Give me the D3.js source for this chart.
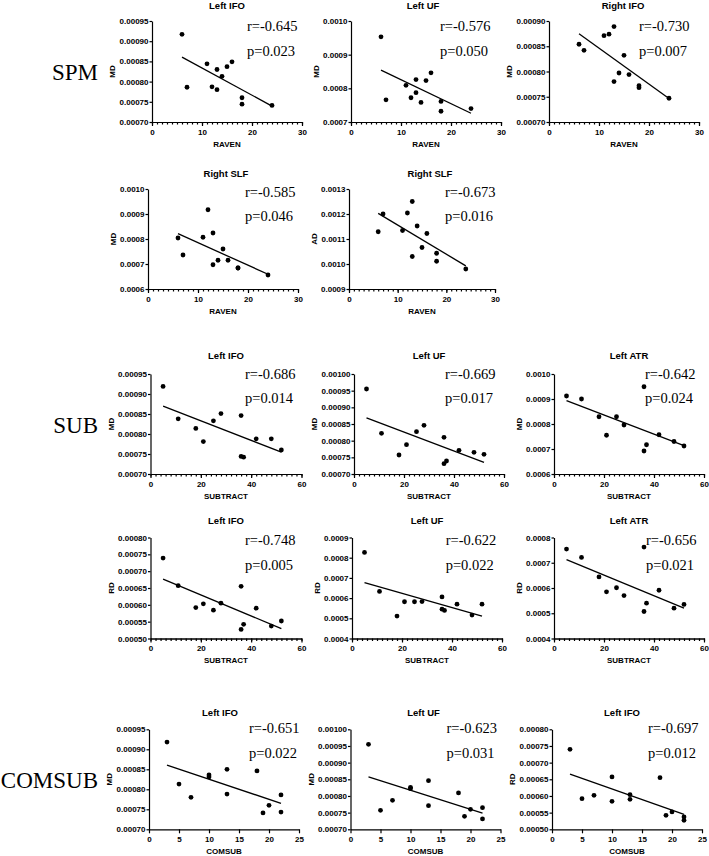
<!DOCTYPE html>
<html lang="en">
<head>
<meta charset="UTF-8">
<title>Correlations of DTI metrics with SPM, SUBTRACT and COMSUB</title>
<style>
    body { margin: 0; background: #fff; }
    svg text { fill: #000; }
    .sans { font-family: "Liberation Sans", Arial, sans-serif; font-weight: bold; }
    .serif { font-family: "Liberation Serif", "Times New Roman", serif; }
</style>
</head>
<body>
<svg id="chart" width="709" height="856"></svg>

<script src="https://d3js.org/d3.v7.min.js"></script>
<script>
// scores (x values, one per subject)
const raven    = [6, 7, 11, 12, 13, 13, 14, 15, 16, 18, 18, 24];
const subtract = [5, 11, 18, 21, 25, 28, 36, 36, 37, 42, 48, 52];
const comsub   = [3, 5, 7, 10, 10, 13, 13, 18, 19, 20, 22, 22];

// DTI values, same order as the score arrays
const spmLeftIfoMD    = [0.000917, 0.000786, 0.000844, 0.000787, 0.000830, 0.000780, 0.000813, 0.000837, 0.000849, 0.000760, 0.000744, 0.000741];
const spmLeftUfMD     = [0.000953, 0.000766, 0.000809, 0.000772, 0.000826, 0.000787, 0.000758, 0.000823, 0.000846, 0.000761, 0.000732, 0.000740];
const spmRightIfoMD   = [0.000854, 0.000842, 0.000871, 0.000874, 0.000889, 0.000780, 0.000797, 0.000832, 0.000794, 0.000772, 0.000768, 0.000747];
const spmRightSlfMD   = [0.000804, 0.000736, 0.000807, 0.000917, 0.000824, 0.000697, 0.000715, 0.000760, 0.000715, 0.000684, 0.000684, 0.000656];
const spmRightSlfAD   = [0.001129, 0.001200, 0.001134, 0.001204, 0.001250, 0.001030, 0.001152, 0.001066, 0.001122, 0.001043, 0.001011, 0.000980];
const subLeftIfoMD    = [0.000919, 0.000838, 0.000814, 0.000781, 0.000833, 0.000851, 0.000846, 0.000744, 0.000742, 0.000788, 0.000788, 0.000760];
const subLeftUfMD     = [0.000955, 0.000822, 0.000757, 0.000788, 0.000827, 0.000846, 0.000810, 0.000731, 0.000739, 0.000771, 0.000765, 0.000759];
const subLeftAtrMD    = [0.000912, 0.000900, 0.000829, 0.000755, 0.000829, 0.000796, 0.000949, 0.000692, 0.000717, 0.000757, 0.000730, 0.000712];
const subLeftIfoRD    = [0.000739, 0.000657, 0.000592, 0.000603, 0.000584, 0.000605, 0.000655, 0.000527, 0.000542, 0.000590, 0.000537, 0.000552];
const subLeftUfRD     = [0.000826, 0.000633, 0.000511, 0.000582, 0.000582, 0.000583, 0.000606, 0.000545, 0.000539, 0.000570, 0.000516, 0.000570];
const subLeftAtrRD    = [0.000754, 0.000721, 0.000644, 0.000585, 0.000601, 0.000570, 0.000762, 0.000507, 0.000540, 0.000591, 0.000520, 0.000535];
const comsubLeftIfoMD = [0.000918, 0.000813, 0.000780, 0.000836, 0.000831, 0.000850, 0.000788, 0.000846, 0.000741, 0.000760, 0.000786, 0.000743];
const comsubLeftUfMD  = [0.000955, 0.000757, 0.000787, 0.000826, 0.000822, 0.000846, 0.000771, 0.000809, 0.000739, 0.000760, 0.000765, 0.000731];
const comsubLeftIfoRD = [0.000740, 0.000592, 0.000602, 0.000657, 0.000584, 0.000604, 0.000590, 0.000655, 0.000542, 0.000552, 0.000537, 0.000527];

// panel texts
const panelTitles = ['Left IFO', 'Left UF', 'Right IFO', 'Right SLF', 'Right SLF',
                     'Left IFO', 'Left UF', 'Left ATR', 'Left IFO', 'Left UF', 'Left ATR',
                     'Left IFO', 'Left UF', 'Left IFO'];
const rValues = ['-0.645', '-0.576', '-0.730', '-0.585', '-0.673',
                 '-0.686', '-0.669', '-0.642', '-0.748', '-0.622', '-0.656',
                 '-0.651', '-0.623', '-0.697'];
const pValues = ['0.023', '0.050', '0.007', '0.046', '0.016',
                 '0.014', '0.017', '0.024', '0.005', '0.022', '0.021',
                 '0.022', '0.031', '0.012'];
const rowLabels = ['SPM', 'SUB', 'COMSUB'];

// x axis setups
const xRaven    = {xs: raven,    label: 'RAVEN',    max: 30, step: 10, minor: 1};
const xSubtract = {xs: subtract, label: 'SUBTRACT', max: 60, step: 20, minor: 2};
const xComsub   = {xs: comsub,   label: 'COMSUB',   max: 25, step: 5,  minor: 0};

// layout rows: offsets for title and r / p text relative to plot top
const rows = [
    {titleDy: -16, rDy: 9.5, pDy: 35},
    {titleDy: -16, rDy: 8,   pDy: 32},
    {titleDy: -18.5, rDy: 5, pDy: 29},
    {titleDy: -17, rDy: 7.5, pDy: 32.5},
    {titleDy: -16.5, rDy: 4, pDy: 29}
];

const panels = [
    {ax: xRaven, ys: spmLeftIfoMD, yl: 'MD', y0: 0.00070, y1: 0.00095, ys5: 0.00005, dec: 5, left: 152, top: 21, w: 150, h: 101, rx: 95, tdx: 0, row: 0},
    {ax: xRaven, ys: spmLeftUfMD, yl: 'MD', y0: 0.0007, y1: 0.0010, ys5: 0.0001, dec: 4, left: 351, top: 21, w: 150, h: 101, rx: 89, tdx: -3, row: 0},
    {ax: xRaven, ys: spmRightIfoMD, yl: 'MD', y0: 0.00070, y1: 0.00090, ys5: 0.00005, dec: 5, left: 549, top: 21, w: 150, h: 101, rx: 90, tdx: -1, row: 0},
    {ax: xRaven, ys: spmRightSlfMD, yl: 'MD', y0: 0.0006, y1: 0.0010, ys5: 0.0001, dec: 4, left: 148, top: 189, w: 150, h: 100, rx: 97, tdx: 3, row: 1},
    {ax: xRaven, ys: spmRightSlfAD, yl: 'AD', y0: 0.0009, y1: 0.0013, ys5: 0.0001, dec: 4, left: 349, top: 189, w: 146, h: 100, rx: 96, tdx: 8, row: 1},
    {ax: xSubtract, ys: subLeftIfoMD, yl: 'MD', y0: 0.00070, y1: 0.00095, ys5: 0.00005, dec: 5, left: 150.5, top: 374, w: 151, h: 100, rx: 94.5, tdx: 0, row: 2},
    {ax: xSubtract, ys: subLeftUfMD, yl: 'MD', y0: 0.00070, y1: 0.00100, ys5: 0.00005, dec: 5, left: 354, top: 374, w: 150, h: 100, rx: 91, tdx: 0, row: 2},
    {ax: xSubtract, ys: subLeftAtrMD, yl: 'MD', y0: 0.0006, y1: 0.0010, ys5: 0.0001, dec: 4, left: 554, top: 374, w: 150, h: 100, rx: 91, tdx: 0, row: 2},
    {ax: xSubtract, ys: subLeftIfoRD, yl: 'RD', y0: 0.00050, y1: 0.00080, ys5: 0.00005, dec: 5, left: 150.5, top: 537.5, w: 151, h: 101, rx: 94.5, tdx: 0, row: 3},
    {ax: xSubtract, ys: subLeftUfRD, yl: 'RD', y0: 0.0004, y1: 0.0009, ys5: 0.0001, dec: 4, left: 352, top: 537.5, w: 150, h: 101, rx: 93.7, tdx: 0, row: 3},
    {ax: xSubtract, ys: subLeftAtrRD, yl: 'RD', y0: 0.0004, y1: 0.0008, ys5: 0.0001, dec: 4, left: 554, top: 537.5, w: 150, h: 101, rx: 92, tdx: 0, row: 3},
    {ax: xComsub, ys: comsubLeftIfoMD, yl: 'MD', y0: 0.00070, y1: 0.00095, ys5: 0.00005, dec: 5, left: 149, top: 729.3, w: 150, h: 100, rx: 100, tdx: -4, row: 4},
    {ax: xComsub, ys: comsubLeftUfMD, yl: 'MD', y0: 0.00070, y1: 0.00100, ys5: 0.00005, dec: 5, left: 350.5, top: 729.3, w: 150, h: 100, rx: 96, tdx: -2, row: 4},
    {ax: xComsub, ys: comsubLeftIfoRD, yl: 'RD', y0: 0.00050, y1: 0.00080, ys5: 0.00005, dec: 5, left: 552, top: 729.3, w: 150, h: 100, rx: 96, tdx: -5, row: 4}
];

// row label positions (right edge, vertical centre)
const rowLabelPos = [{x: 98, y: 72}, {x: 98, y: 425}, {x: 98, y: 780}];

const svg = d3.select('#chart');

function linearFit(xs, ys) {
    const mx = d3.mean(xs), my = d3.mean(ys);
    const sxy = d3.sum(xs, (v, i) => (v - mx) * (ys[i] - my));
    const sxx = d3.sum(xs, v => (v - mx) * (v - mx));
    const slope = sxy / sxx;
    return v => my + slope * (v - mx);
}

function styleAxis(sel) {
    sel.attr('font-family', null).attr('font-size', null);
    sel.selectAll('line, path').attr('stroke', '#000').attr('stroke-width', 1.2);
    sel.selectAll('text').attr('class', 'sans').attr('font-size', 8);
}

panels.forEach((cfg, i) => {
    const row = rows[cfg.row];
    const g = svg.append('g').attr('transform', `translate(${cfg.left},${cfg.top})`);

    const x = d3.scaleLinear().domain([0, cfg.ax.max]).range([0, cfg.w]);
    const y = d3.scaleLinear().domain([cfg.y0, cfg.y1]).range([cfg.h, 0]);

    // minor ticks on x
    if (cfg.ax.minor) {
        g.append('g')
            .attr('transform', `translate(0,${cfg.h})`)
            .call(d3.axisBottom(x)
                .tickValues(d3.range(0, cfg.ax.max + 1e-9, cfg.ax.minor))
                .tickSize(2.5).tickSizeOuter(0).tickFormat(''))
            .call(styleAxis);
    }

    g.append('g')
        .attr('transform', `translate(0,${cfg.h})`)
        .call(d3.axisBottom(x)
            .tickValues(d3.range(0, cfg.ax.max + 1e-9, cfg.ax.step))
            .tickSize(4).tickSizeOuter(0).tickPadding(3))
        .call(styleAxis);

    const nY = Math.round((cfg.y1 - cfg.y0) / cfg.ys5);
    const yAxisG = g.append('g')
        .call(d3.axisLeft(y)
            .tickValues(d3.range(nY + 1).map(k => cfg.y0 + k * cfg.ys5))
            .tickFormat(d3.format(`.${cfg.dec}f`))
            .tickSize(2.5).tickSizeOuter(0).tickPadding(1))
        .call(styleAxis);

    const yw = yAxisG.node().getBBox().width;

    // regression line
    const fit = linearFit(cfg.ax.xs, cfg.ys);
    const xa = d3.min(cfg.ax.xs), xb = d3.max(cfg.ax.xs);
    g.append('line')
        .attr('x1', x(xa)).attr('y1', y(fit(xa)))
        .attr('x2', x(xb)).attr('y2', y(fit(xb)))
        .attr('stroke', '#000').attr('stroke-width', 1.3);

    // points
    g.append('g')
        .selectAll('circle')
        .data(cfg.ys)
        .enter().append('circle')
        .attr('cx', (d, k) => x(cfg.ax.xs[k]))
        .attr('cy', d => y(d))
        .attr('r', 2.4)
        .attr('fill', '#000');

    // titles and labels
    g.append('text').attr('class', 'sans')
        .attr('x', cfg.w / 2 + cfg.tdx).attr('y', row.titleDy)
        .attr('text-anchor', 'middle').attr('dominant-baseline', 'central')
        .attr('font-size', 9.5)
        .text(panelTitles[i]);

    g.append('text').attr('class', 'sans')
        .attr('x', cfg.w / 2).attr('y', cfg.h + 22)
        .attr('text-anchor', 'middle').attr('dominant-baseline', 'central')
        .attr('font-size', 8)
        .text(cfg.ax.label);

    g.append('text').attr('class', 'sans')
        .attr('transform', `translate(${-yw - 6.5},${cfg.h / 2}) rotate(-90)`)
        .attr('text-anchor', 'middle').attr('dominant-baseline', 'central')
        .attr('font-size', 8)
        .text(cfg.yl);

    g.append('text').attr('class', 'serif')
        .attr('x', cfg.rx).attr('y', row.rDy)
        .attr('font-size', 14.5)
        .text('r=' + rValues[i]);

    g.append('text').attr('class', 'serif')
        .attr('x', cfg.rx).attr('y', row.pDy)
        .attr('font-size', 14.5)
        .text('p=' + pValues[i]);
});

svg.append('g')
    .selectAll('text')
    .data(rowLabels)
    .enter().append('text')
    .attr('class', 'serif')
    .attr('x', (d, k) => rowLabelPos[k].x)
    .attr('y', (d, k) => rowLabelPos[k].y)
    .attr('text-anchor', 'end')
    .attr('dominant-baseline', 'central')
    .attr('font-size', 23)
    .text(d => d);
</script>
</body>
</html>
